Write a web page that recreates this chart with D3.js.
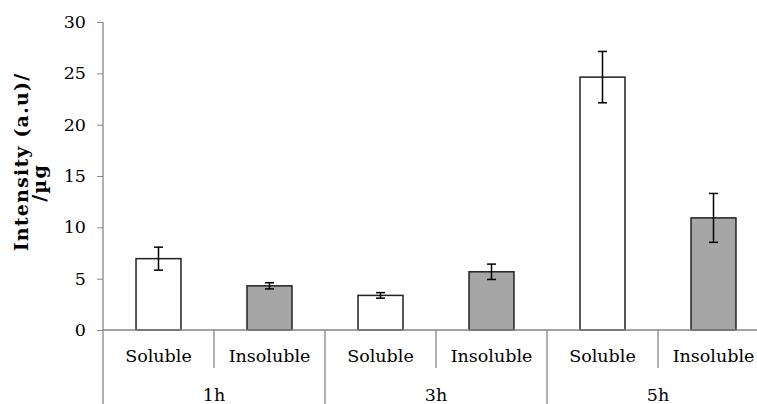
<!DOCTYPE html>
<html>
<head>
<meta charset="utf-8">
<script src="https://cdn.jsdelivr.net/npm/d3@7"></script>
<style>
  body { margin: 0; background: #fff; }
  svg { display: block; font-family: "DejaVu Serif", serif; }
</style>
</head>
<body>
<div id="wrapper"></div>
<script>
// data
const groups = ["1h", "3h", "5h"]
const fractions = ["Soluble", "Insoluble"]
const values = [6.95, 4.3, 3.37, 5.67, 24.63, 10.92]
const errors = [1.12, 0.3, 0.27, 0.75, 2.5, 2.38]
const yTicks = [0, 5, 10, 15, 20, 25, 30]

function drawBars() {
  const rows = []
  groups.forEach((g, gi) => fractions.forEach((f, fi) => {
    const i = gi * fractions.length + fi
    rows.push({ key: g + "-" + f, group: g, fraction: f, value: values[i], err: errors[i] })
  }))

  // dimensions
  let dimensions = {
    width: 757,
    height: 404,
    margin: { top: 22, right: -12, bottom: 74, left: 103 }
  }
  dimensions.boundedWidth = dimensions.width
    - dimensions.margin.left - dimensions.margin.right
  dimensions.boundedHeight = dimensions.height
    - dimensions.margin.top - dimensions.margin.bottom

  const wrapper = d3.select("#wrapper")
    .append("svg")
      .attr("width", dimensions.width)
      .attr("height", dimensions.height)

  const bounds = wrapper.append("g")
    .attr("transform", `translate(${dimensions.margin.left},${dimensions.margin.top})`)

  // scales
  const xScale = d3.scaleBand()
    .domain(rows.map(d => d.key))
    .range([0, dimensions.boundedWidth])
    .paddingInner(0.595)
    .paddingOuter(0.2975)

  const yScale = d3.scaleLinear()
    .domain([0, 30])
    .range([dimensions.boundedHeight, 0])

  const axisColor = "#868686"

  // bars
  bounds.append("g").selectAll("rect")
    .data(rows)
    .join("rect")
      .attr("x", d => xScale(d.key))
      .attr("y", d => yScale(d.value))
      .attr("width", xScale.bandwidth())
      .attr("height", d => dimensions.boundedHeight - yScale(d.value))
      .attr("fill", d => d.fraction == "Soluble" ? "#ffffff" : "#a6a6a6")
      .attr("stroke", "#222")
      .attr("stroke-width", 1.5)

  // y axis
  const yAxis = bounds.append("g")
    .call(d3.axisLeft(yScale).tickValues(yTicks).tickSize(6).tickPadding(11))
  yAxis.select(".domain").remove()
  yAxis.selectAll(".tick line").attr("stroke", axisColor)
  yAxis.selectAll(".tick text")
    .attr("fill", "#000")
    .style("font-size", "17.5px")
    .style("font-family", "DejaVu Serif, serif")

  bounds.append("line")
    .attr("x1", 0).attr("x2", 0)
    .attr("y1", 0).attr("y2", dimensions.height)
    .attr("stroke", axisColor)
    .attr("stroke-width", 1.3)

  // x axis line
  bounds.append("line")
    .attr("x1", 0).attr("x2", dimensions.boundedWidth)
    .attr("y1", dimensions.boundedHeight).attr("y2", dimensions.boundedHeight)
    .attr("stroke", axisColor)
    .attr("stroke-width", 1.5)

  // separators
  const step = xScale.step()
  const sep = bounds.append("g").attr("stroke", axisColor).attr("stroke-width", 1.3)
  rows.forEach((d, i) => {
    const x = step * (i + 1)
    const isGroupEnd = (i + 1) % fractions.length == 0
    sep.append("line")
      .attr("x1", x).attr("x2", x)
      .attr("y1", dimensions.boundedHeight)
      .attr("y2", isGroupEnd ? dimensions.height : dimensions.boundedHeight + 38)
  })

  // error bars
  const errG = bounds.append("g").attr("stroke", "#000").attr("stroke-width", 1.5)
  rows.forEach(d => {
    const cx = xScale(d.key) + xScale.bandwidth() / 2
    const y1 = yScale(d.value + d.err)
    const y2 = yScale(d.value - d.err)
    errG.append("line").attr("x1", cx).attr("x2", cx).attr("y1", y1).attr("y2", y2)
    errG.append("line").attr("x1", cx - 4.5).attr("x2", cx + 4.5).attr("y1", y1).attr("y2", y1)
    errG.append("line").attr("x1", cx - 4.5).attr("x2", cx + 4.5).attr("y1", y2).attr("y2", y2)
  })

  // category labels
  bounds.append("g").selectAll("text")
    .data(rows)
    .join("text")
      .attr("x", d => xScale(d.key) + xScale.bandwidth() / 2)
      .attr("y", dimensions.boundedHeight + 32)
      .attr("text-anchor", "middle")
      .style("font-size", "17.5px")
      .text(d => d.fraction)

  bounds.append("g").selectAll("text")
    .data(groups)
    .join("text")
      .attr("x", (d, i) => step * fractions.length * (i + 0.5))
      .attr("y", dimensions.boundedHeight + 71)
      .attr("text-anchor", "middle")
      .style("font-size", "17.5px")
      .text(d => d)

  // y label
  const yLabel = wrapper.append("text")
    .attr("transform", "rotate(-90)")
    .style("font-size", "19px")
    .style("font-weight", "bold")
    .style("letter-spacing", "1.2px")
    .attr("text-anchor", "middle")
  yLabel.append("tspan")
    .attr("x", -162).attr("y", 28)
    .text("Intensity (a.u)/")
  yLabel.append("tspan")
    .attr("x", -183).attr("y", 46)
    .text("/µg")
}

drawBars()
</script>
</body>
</html>
